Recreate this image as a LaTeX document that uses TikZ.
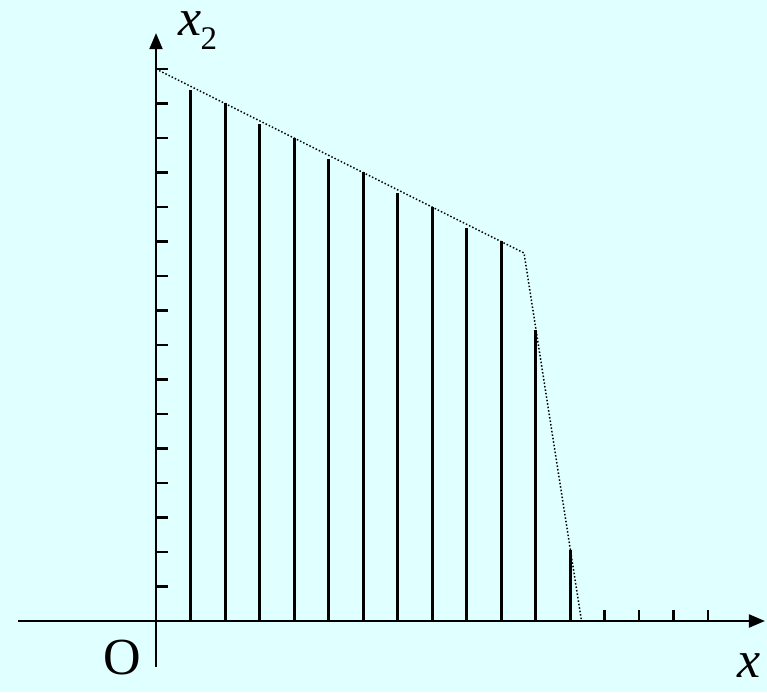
\documentclass[tikz,border=0pt]{standalone}
\usepackage{fontspec}
\setmainfont{Liberation Serif}
\usepackage{tikz}
\usetikzlibrary{arrows.meta,calc}
\definecolor{bgcyan}{RGB}{224,255,255}

\begin{document}
\begin{tikzpicture}[x=34.5pt,y=34.5pt,font=\fontsize{52}{56}\selectfont,
  axis/.style={line width=2pt,-{Triangle[length=16pt,width=13pt]}},
  stick/.style={line width=3pt}]
\fill[bgcyan] (-4.522,-2.058) rectangle (17.71,18.0);
\useasboundingbox (-4.522,-2.058) rectangle (17.71,18.0);
% ticks
\foreach \k in {1,...,16} \draw[line width=2.5pt] (0,\k)--(0.35,\k);
\foreach \k in {13,...,16} \draw[line width=2.5pt] (\k,0)--(\k,0.32);
% sticks under the boundary
\foreach \k/\h in {1/15.4,2/15.0,3/14.4,4/14.0,5/13.4,6/13.0,7/12.4,8/12.0,9/11.4,10/11.0,11/8.43,12/2.05}
  \draw[stick] (\k,0)--(\k,\h);
% boundary
\draw[dotted,line width=1.5pt] (0,16)--(32/3,32/3)--(37/3,0);
% axes
\draw[axis] (-4,0)--(17.65,0);
\draw[axis] (0,-1.33)--(0,17.04);
\node[anchor=base west,inner sep=0pt] (xtwo) at (0.65,16.96)
  {\itshape x\kern-1pt\raisebox{-14pt}{\fontsize{33}{33}\selectfont\upshape 2}};
\node (xone) at (17.2,-1.3) {\itshape x};
\node (orig) at (-0.99,-1.05) {O};
\end{tikzpicture}
\end{document}
